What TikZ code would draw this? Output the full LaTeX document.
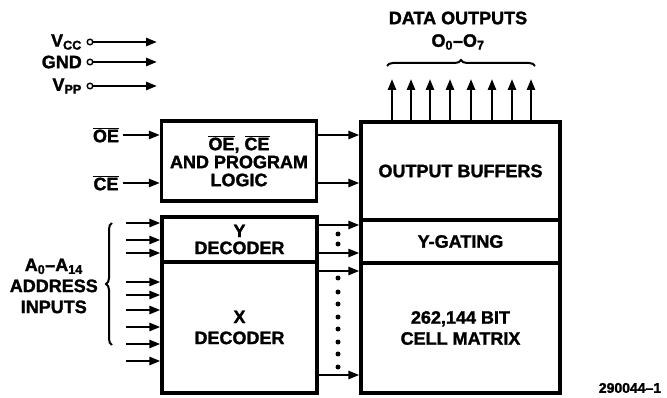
\documentclass[tikz,border=0pt]{standalone}
\usepackage{fontspec}
\setmainfont{Liberation Sans}[BoldFeatures={FakeBold=1.6}]
\usetikzlibrary{arrows.meta,decorations.pathreplacing}
\newcommand{\ovl}[1]{$\overline{\hbox{#1}}$}
\newcommand{\lbf}{\fontsize{18}{18}\selectfont\bfseries}
\tikzset{
  box/.style={draw, line width=3.2pt, inner sep=0pt, align=center, font=\lbf},
  arr/.style={line width=2.4pt, -{Triangle[length=11pt,width=8pt]}},
  lbl/.style={font=\lbf, align=center, inner sep=0pt},
  dotc/.style={fill=black},
  brc/.style={line width=2pt, decorate, decoration={brace, amplitude=6pt}},
}
\begin{document}
\begin{tikzpicture}[x=1pt,y=-1pt]
\useasboundingbox (0,0) rectangle (667,398);
% boxes
\node[box, minimum width=155pt, minimum height=80pt] (logic) at (239,161)
  {\ovl{OE}, \ovl{CE}\\[0pt]AND PROGRAM\\[0pt]LOGIC};
\node[box, minimum width=155pt, minimum height=45pt] (ydec) at (239.5,239.5)
  {Y\\[-1pt]DECODER};
\node[box, minimum width=155pt, minimum height=131pt] (xdec) at (239.5,327.5)
  {X\\[3pt]DECODER};
\node[box, minimum width=199pt, minimum height=98pt] (outbuf) at (460.5,171)
  {OUTPUT BUFFERS};
\node[box, minimum width=199pt, minimum height=43pt] (ygate) at (460.5,241.5)
  {Y-GATING};
\node[box, minimum width=199pt, minimum height=130pt] (matrix) at (460.5,328)
  {262,144 BIT\\[3pt]CELL MATRIX};
% power inputs
\node[lbl, anchor=east] (vcc) at (82,42) {V\textsubscript{CC}};
\node[lbl, anchor=east] (gnd) at (82,62) {GND};
\node[lbl, anchor=east] (vpp) at (82,86) {V\textsubscript{PP}};
\foreach \n/\y in {vcc/42,gnd/62,vpp/86}{
  \coordinate (\n c) at (90,\y);
  \coordinate (\n t) at (157,\y);
  \draw[line width=1.4pt] (\n c) circle (2.8pt);
  \draw[arr] ([xshift=2.8pt]\n c) -- (\n t);
}
% OE / CE
\node[lbl] (oe) at (106,135) {\ovl{OE}};
\node[lbl] (ce) at (106,183) {\ovl{CE}};
\draw[arr] ([xshift=4pt]oe.east) -- (logic.west |- oe);
\draw[arr] ([xshift=4pt]ce.east) -- (logic.west |- ce);
\draw[arr] (logic.east |- oe) -- (outbuf.west |- oe);
\draw[arr] (logic.east |- ce) -- (outbuf.west |- ce);
% data outputs
\node[lbl] (dout) at (458,18) {DATA OUTPUTS};
\node[lbl] (orange) at (458,42) {O\textsubscript{0}--O\textsubscript{7}};
\coordinate (bl) at (387,66);
\coordinate (br) at (535,66);
\draw[brc] (bl) -- (br);
\foreach \x [count=\i] in {392,411,430,450,471,492,512,531}{
  \coordinate (d\i) at (\x,79);
  \draw[arr] (outbuf.north -| d\i) -- (d\i);
}
% address inputs
\foreach \y [count=\i] in {223,240,253}{
  \coordinate (a\i) at (126,\y);
  \draw[arr] (a\i) -- (ydec.west |- a\i);
}
\foreach \y [count=\i] in {282,295,310,327,344,361}{
  \coordinate (b\i) at (126,\y);
  \draw[arr] (b\i) -- (xdec.west |- b\i);
}
\coordinate (lb) at (112,345);
\coordinate (lt) at (112,223);
\draw[brc] (lb) -- (lt);
\node[lbl, anchor=east] (addr) at (98,286)
  {A\textsubscript{0}--A\textsubscript{14}\\[3pt]ADDRESS\\[3pt]INPUTS};
% decoder to matrix
\coordinate (y1) at (0,225);
\coordinate (y2) at (0,253);
\coordinate (x1) at (0,271);
\coordinate (x2) at (0,375);
\draw[arr] (ydec.east |- y1) -- (ygate.west |- y1);
\draw[arr] (ydec.east |- y2) -- (ygate.west |- y2);
\draw[arr] (xdec.east |- x1) -- (matrix.west |- x1);
\draw[arr] (xdec.east |- x2) -- (matrix.west |- x2);
\foreach \y in {234,244,278,292,304,317,329,342,354,367}{
  \fill[dotc] (338,\y) circle (2.5pt);
}
% figure number
\node[font=\fontsize{14}{14}\selectfont\bfseries, inner sep=0pt] (fig) at (630,388) {290044--1};
\end{tikzpicture}
\end{document}
